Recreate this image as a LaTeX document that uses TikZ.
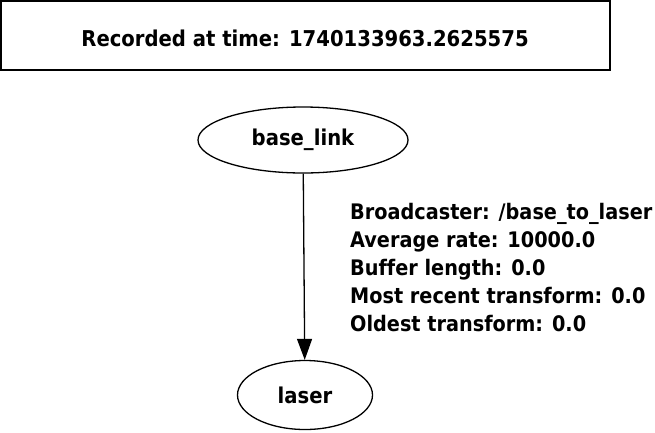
\documentclass[tikz,border=0pt]{standalone}
\usepackage{fontspec}
\setmainfont[FakeStretch=0.9,Ligatures=NoCommon]{DejaVu Sans}
\usetikzlibrary{shapes.geometric,arrows.meta}

\begin{document}
\begin{tikzpicture}[x=1pt,y=-1pt,font=\bfseries\fontsize{21.8}{26}\selectfont]
\tikzset{frame/.style={ellipse,draw=black,line width=1.3pt,inner sep=0pt},
  info/.style={anchor=base west,inner sep=0pt,font=\bfseries\fontsize{21.4}{26}\selectfont}}
\useasboundingbox (0,0) rectangle (655,432);
\draw [black,line width=1.3pt] (1,1) rectangle (610,70);
\node (stamp) at (305,38) {Recorded at time: 1740133963.2625575};
\node [frame,minimum width=210,minimum height=66] (base) at (303,140) {base\_link};
\node [frame,minimum width=135,minimum height=69] (laser) at (305,395) {laser};
\draw [black,line width=1.3pt,-{Triangle[length=21pt,width=15pt]}] (base) -- (laser);
\node [info] (l1) at (350,219) {Broadcaster: /base\_to\_laser};
\node [info] (l2) at (350,247) {Average rate: 10000.0};
\node [info] (l3) at (350,275) {Buffer length: 0.0};
\node [info] (l4) at (350,303) {Most recent transform: 0.0};
\node [info] (l5) at (350,331) {Oldest transform: 0.0};
\end{tikzpicture}
\end{document}
